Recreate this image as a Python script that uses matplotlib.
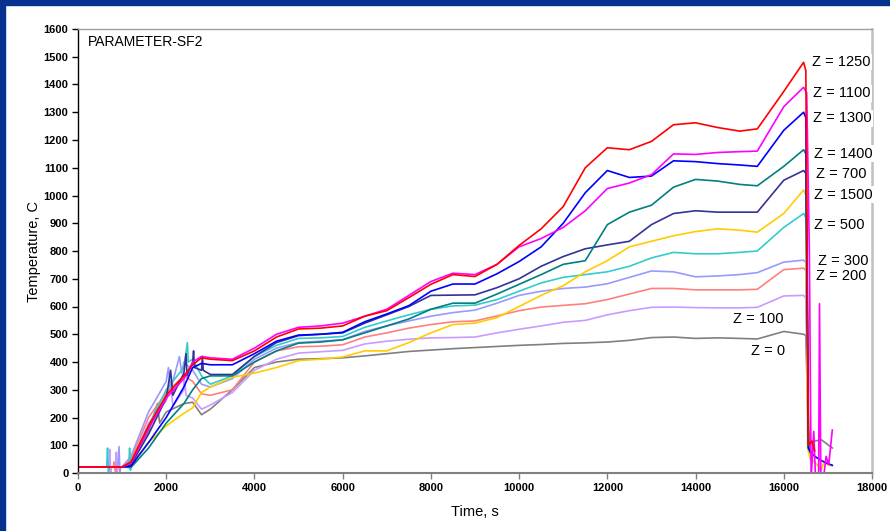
import matplotlib
matplotlib.use("Agg")
import matplotlib.pyplot as plt
from matplotlib.patches import Rectangle
import numpy as np

plt.rcParams['font.family'] = ['Liberation Sans', 'DejaVu Sans']

# common time grid, s
t_main = [0, 1000, 1200, 1600, 2000, 2400, 2600, 2800, 3000, 3500, 4000, 4500,
          5000, 5500, 6000, 6500, 7000, 7500, 8000, 8500, 9000, 9500, 10000, 10500,
          11000, 11500, 12000, 12500, 13000, 13500, 14000, 14500, 15000, 15400, 16000, 16450]

# temperatures, C (one list per thermocouple height)
z1250 = [22, 22, 40, 170, 280, 350, 390, 415, 410, 405, 440, 490, 519, 522, 530, 565, 585, 632,
         680, 715, 708, 752, 820, 880, 960, 1100, 1172, 1165, 1195, 1255, 1262, 1245, 1232, 1240, 1375, 1480]
z1100 = [22, 22, 35, 160, 270, 340, 400, 420, 415, 410, 450, 500, 525, 530, 540, 565, 590, 640,
         690, 720, 715, 752, 815, 845, 885, 945, 1025, 1045, 1075, 1150, 1148, 1155, 1158, 1160, 1320, 1390]
z1300 = [22, 22, 25, 110, 200, 310, 380, 395, 390, 390, 430, 475, 497, 500, 507, 545, 573, 603,
         655, 681, 681, 718, 762, 815, 900, 1010, 1090, 1065, 1070, 1125, 1122, 1115, 1110, 1105, 1235, 1300]
z1400 = [22, 22, 20, 90, 180, 250, 300, 340, 350, 350, 400, 440, 468, 472, 480, 505, 530, 555,
         590, 612, 612, 645, 680, 715, 752, 765, 895, 940, 965, 1030, 1058, 1052, 1040, 1035, 1105, 1165]
z700 = [22, 22, 30, 140, 270, 360, 400, 370, 355, 355, 420, 470, 495, 500, 505, 540, 570, 600,
        640, 641, 642, 668, 700, 745, 780, 808, 822, 835, 895, 935, 945, 940, 940, 940, 1055, 1090]
z1500 = [22, 22, 30, 110, 170, 215, 235, 290, 310, 345, 360, 380, 405, 410, 418, 440, 440, 470,
         505, 535, 540, 560, 600, 640, 675, 725, 765, 815, 835, 855, 870, 880, 875, 868, 935, 1020]
z500 = [22, 22, 30, 170, 300, 380, 410, 350, 320, 350, 420, 460, 485, 487, 492, 525, 548, 570,
        590, 602, 605, 625, 655, 685, 705, 715, 725, 745, 775, 795, 790, 790, 795, 800, 885, 935]
z300 = [22, 22, 60, 220, 330, 400, 370, 320, 310, 340, 410, 450, 470, 475, 480, 510, 530, 548,
        565, 578, 587, 612, 640, 655, 665, 670, 682, 705, 728, 725, 707, 710, 715, 722, 760, 767]
z200 = [22, 22, 50, 200, 290, 350, 330, 285, 280, 300, 400, 440, 455, 457, 462, 490, 505, 522,
        535, 545, 548, 566, 585, 598, 604, 610, 625, 645, 665, 665, 660, 660, 660, 662, 733, 738]
z100 = [22, 22, 40, 180, 260, 300, 270, 230, 245, 290, 370, 410, 432, 437, 442, 465, 475, 482,
        487, 488, 490, 505, 518, 530, 543, 550, 570, 585, 597, 598, 596, 595, 595, 597, 638, 640]
z0 = [22, 22, 40, 150, 220, 250, 255, 210, 230, 300, 380, 400, 410, 412, 415, 422, 430, 438,
      443, 448, 452, 456, 460, 463, 467, 469, 472, 478, 488, 490, 485, 487, 485, 483, 510, 500]

# extra readings: start-up spikes and values after the burner cut-off
extra = {
    "1250": [(2550, 380), (16500, 1450), (16560, 100), (16640, 115), (16700, 80)],
    "1100": [(16520, 1370), (16580, 800), (16620, -20), (16680, 150), (16720, -20), (16790, -20),
             (16810, 610), (16840, -20), (16900, -20), (16960, 60), (17020, 30), (17100, 155)],
    "1300": [(16500, 1280), (16560, 90), (16620, 70), (16750, 55), (16850, 45), (16980, 35), (17100, 28)],
    "1400": [(16500, 1150), (16560, 90), (16620, 70)],
    "700": [(2100, 370), (2150, 280), (2450, 430), (2470, 350), (2620, 440), (2640, 380),
            (2820, 420), (2840, 370), (16500, 1080), (16560, 90), (16620, 70)],
    "1500": [(16500, 1000), (16540, 90), (16600, 50), (16700, 40), (16850, 10), (16900, 35), (17100, 25)],
    "500": [(650, 22), (670, 90), (690, 0), (710, 22), (1150, 20), (1170, 90), (1190, 10),
            (2480, 470), (2500, 400), (16500, 920), (16560, 90), (16620, 70)],
    "300": [(900, 22), (930, 95), (950, 0), (970, 22), (2050, 380), (2100, 300), (2300, 420),
            (2350, 360), (16500, 760), (16560, 90), (16620, 70)],
    "200": [(800, 22), (820, 40), (850, 0), (870, 22), (16500, 730), (16560, 90), (16620, 70)],
    "100": [(700, 22), (720, 85), (740, 0), (760, 22), (850, 22), (870, 75), (890, 0), (910, 22),
            (2100, 330), (2150, 240), (2400, 360), (2450, 280), (16500, 630), (16560, 90), (16620, 70)],
    "0": [(1800, 250), (1850, 180), (16500, 495), (16560, 110), (16700, 115), (16850, 120), (17100, 90)],
}

series = [("0", z0, "#808080"), ("100", z100, "#CC99FF"), ("200", z200, "#FF8080"),
          ("300", z300, "#9999FF"), ("500", z500, "#33CCCC"), ("1500", z1500, "#FFCC00"),
          ("700", z700, "#333399"), ("1400", z1400, "#008080"), ("1300", z1300, "#0000FF"),
          ("1100", z1100, "#FF00FF"), ("1250", z1250, "#FF0000")]

# label positions (time, temperature)
label_pos = {"1250": (16640, 1481), "1100": (16663, 1369), "1300": (16663, 1279),
             "1400": (16686, 1150), "700": (16731, 1078), "1500": (16686, 1002),
             "500": (16686, 894), "300": (16776, 764), "200": (16731, 710),
             "100": (14850, 555), "0": (15257, 440)}

fig = plt.figure(figsize=(8.9, 5.31), dpi=100)
fig.patch.set_facecolor("white")
# slide frame
fig.patches.append(Rectangle((0, 1 - 5 / 531), 1, 5 / 531, transform=fig.transFigure,
                             color="#06318F", zorder=0))
fig.patches.append(Rectangle((0, 0), 5 / 890, 1, transform=fig.transFigure,
                             color="#06318F", zorder=0))

ax = fig.add_axes([78 / 890, 1 - 473 / 531, 794 / 890, 444 / 531])

for name, vals, col in series:
    pts = list(zip(t_main, vals)) + extra.get(name, [])
    pts.sort(key=lambda p: p[0])
    tt = [p[0] for p in pts]
    yy = [p[1] for p in pts]
    ax.plot(tt, yy, color=col, lw=1.2)

for name, (tx, ty) in label_pos.items():
    ax.text(tx, ty, "Z = " + name, fontsize=10.5, va="center", ha="left", clip_on=False,
            bbox=dict(facecolor="white", edgecolor="none", pad=1.0), zorder=5)

ax.set_xlim(0, 18000)
ax.set_ylim(0, 1600)
ax.set_xticks(np.arange(0, 18001, 2000))
ax.set_yticks(np.arange(0, 1601, 100))
for lab in ax.get_xticklabels() + ax.get_yticklabels():
    lab.set_fontweight("bold")
ax.tick_params(axis="both", labelsize=8, direction="out", length=4, width=1, pad=3)

ax.spines["left"].set_color("#000000")
ax.spines["left"].set_linewidth(1.0)
ax.spines["bottom"].set_color("#808080")
ax.spines["bottom"].set_linewidth(1.5)
ax.spines["top"].set_color("#A0A0A0")
ax.spines["top"].set_linewidth(1.0)
ax.spines["right"].set_color("#C0C0C0")
ax.spines["right"].set_linewidth(1.8)
ax.tick_params(axis="x", colors="#808080", labelcolor="black")

ax.text(0.0126, 0.971, "PARAMETER-SF2", transform=ax.transAxes, fontsize=10, va="center", ha="left")
ax.set_xlabel("Time, s", fontsize=10.5, labelpad=9)
ax.set_ylabel("Temperature, C", fontsize=10.5, labelpad=2)

fig.savefig("out.png", dpi=100)
